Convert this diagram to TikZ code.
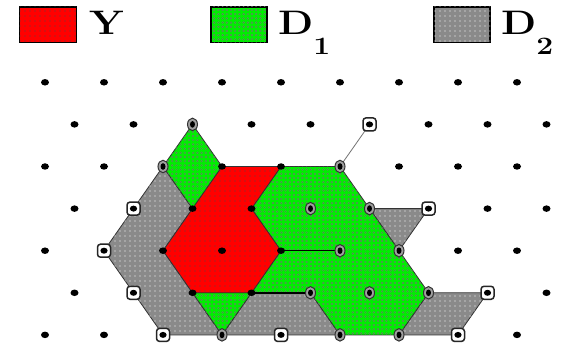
\documentclass[tikz,border=0pt]{standalone}
\usepackage{tikz}
\usetikzlibrary{patterns,shapes.geometric}
\definecolor{regRed}{HTML}{FF0000}
\definecolor{regGreen}{HTML}{00EE00}
\definecolor{regGray}{HTML}{8A8A8A}
\definecolor{ringGray}{HTML}{A0A0A0}
\pgfdeclarepatternformonly{blackdots}{\pgfqpoint{-1pt}{-1pt}}{\pgfqpoint{1pt}{1pt}}{\pgfqpoint{5pt}{5pt}}{%
  \pgfpathcircle{\pgfqpoint{0pt}{0pt}}{0.65pt}\pgfusepath{fill}}
\pgfdeclarepatternformonly{smallrings}{\pgfqpoint{-1.5pt}{-1.5pt}}{\pgfqpoint{1.5pt}{1.5pt}}{\pgfqpoint{4.2pt}{4.2pt}}{%
  \pgfsetlinewidth{0.35pt}\pgfpathcircle{\pgfqpoint{0pt}{0pt}}{1pt}\pgfusepath{stroke}}
\tikzset{
    site/.style={ellipse, fill=black, inner sep=0pt, minimum width=8pt, minimum height=6.5pt},
    ringsite/.style={ellipse, draw=black!80, line width=1pt, fill=ringGray, inner sep=0pt, minimum width=10pt, minimum height=12.5pt,
        path picture={\fill[black] (path picture bounding box.center) ellipse (2.5pt and 3.3pt);}},
    boxsite/.style={rectangle, rounded corners=3pt, draw=black!85, line width=1.5pt, fill=white, inner sep=0pt, minimum size=13pt,
        path picture={\fill[black] (path picture bounding box.center) ellipse (3.6pt and 3pt);}},
    regY/.style={fill=regRed, postaction={pattern=blackdots, pattern color=black!70}},
    regDone/.style={fill=regGreen, postaction={pattern=smallrings, pattern color=black!55}},
    regDtwo/.style={fill=regGray, postaction={pattern=blackdots, pattern color=white}},
    edge/.style={draw=black!80, line width=0.8pt, line join=round},
    cut/.style={draw=black, line width=1.4pt},
    link/.style={draw=black!55, line width=0.8pt},
    legbox/.style={draw=black, line width=1.5pt},
    legtext/.style={font=\fontsize{34}{34}\selectfont\bfseries, inner sep=0pt, anchor=base west}
}
\begin{document}
\begin{tikzpicture}[x=1pt, y=1pt]
\path[use as bounding box, fill=white] (0,0) rectangle (568,346);
% legend
\draw[legbox, regY] (19.5,303.5) rectangle (76.5,339);
\node[legtext] (ylabel) at (89,311) {\scalebox{1.2}[1]{Y}};
\draw[legbox, regDone] (211,303.5) rectangle (267,339);
\node[legtext] (d1label) at (278,311) {\scalebox{1.2}[1]{D\raisebox{-20pt}{\fontsize{25}{25}\selectfont 1}}};
\draw[legbox, regDtwo] (434,303.5) rectangle (490,339);
\node[legtext] (d2label) at (501,311) {\scalebox{1.2}[1]{D\raisebox{-20pt}{\fontsize{25}{25}\selectfont 2}}};
% lattice
\begin{scope}[shift={(45pt,263.7pt)}, x=29.5pt, y=-42.1pt]
\foreach \r in {0,...,6}{
    \foreach \i in {0,...,8}{
        \pgfmathtruncatemacro\c{2*\i+mod(\r,2)}
        \coordinate (p\c-\r) at (\c,\r);
    }
}
% D2 parts
\draw[edge, regDtwo] (p4-2) -- (p5-3) -- (p4-4) -- (p5-5) -- (p6-6) -- (p4-6) -- (p3-5) -- (p2-4) -- (p3-3) -- cycle;
\draw[edge, regDtwo] (p7-5) -- (p9-5) -- (p10-6) -- (p6-6) -- cycle;
\draw[edge, regDtwo] (p11-3) -- (p13-3) -- (p12-4) -- cycle;
\draw[edge, regDtwo] (p13-5) -- (p15-5) -- (p14-6) -- (p12-6) -- cycle;
% D1 parts
\draw[edge, regDone] (p5-1) -- (p6-2) -- (p5-3) -- (p4-2) -- cycle;
\draw[edge, regDone] (p5-5) -- (p7-5) -- (p6-6) -- cycle;
\draw[edge, regDone] (p8-2) -- (p10-2) -- (p11-3) -- (p12-4) -- (p13-5) -- (p12-6) -- (p10-6) -- (p9-5) -- (p7-5) -- (p8-4) -- (p7-3) -- cycle;
% Y
\draw[edge, regY] (p6-2) -- (p8-2) -- (p7-3) -- (p8-4) -- (p7-5) -- (p5-5) -- (p4-4) -- (p5-3) -- cycle;
\draw[cut] (p8-4) -- (p10-4);
\draw[cut] (p7-5) -- (p9-5);
\draw[link] (p10-2) -- (p11-1);
% sites
\foreach \r in {0,...,6}{
    \foreach \i in {0,...,8}{
        \pgfmathtruncatemacro\c{2*\i+mod(\r,2)}
        \node[site] (s\c-\r) at (p\c-\r) {};
    }
}
\foreach \c/\r in {5/1,4/2,10/2,9/3,11/3,10/4,12/4,9/5,11/5,13/5,6/6,10/6,12/6}
    \node[ringsite] (q\c-\r) at (p\c-\r) {};
\foreach \c/\r in {11/1,3/3,13/3,2/4,3/5,15/5,4/6,8/6,14/6}
    \node[boxsite] (b\c-\r) at (p\c-\r) {};
\end{scope}
\end{tikzpicture}
\end{document}
